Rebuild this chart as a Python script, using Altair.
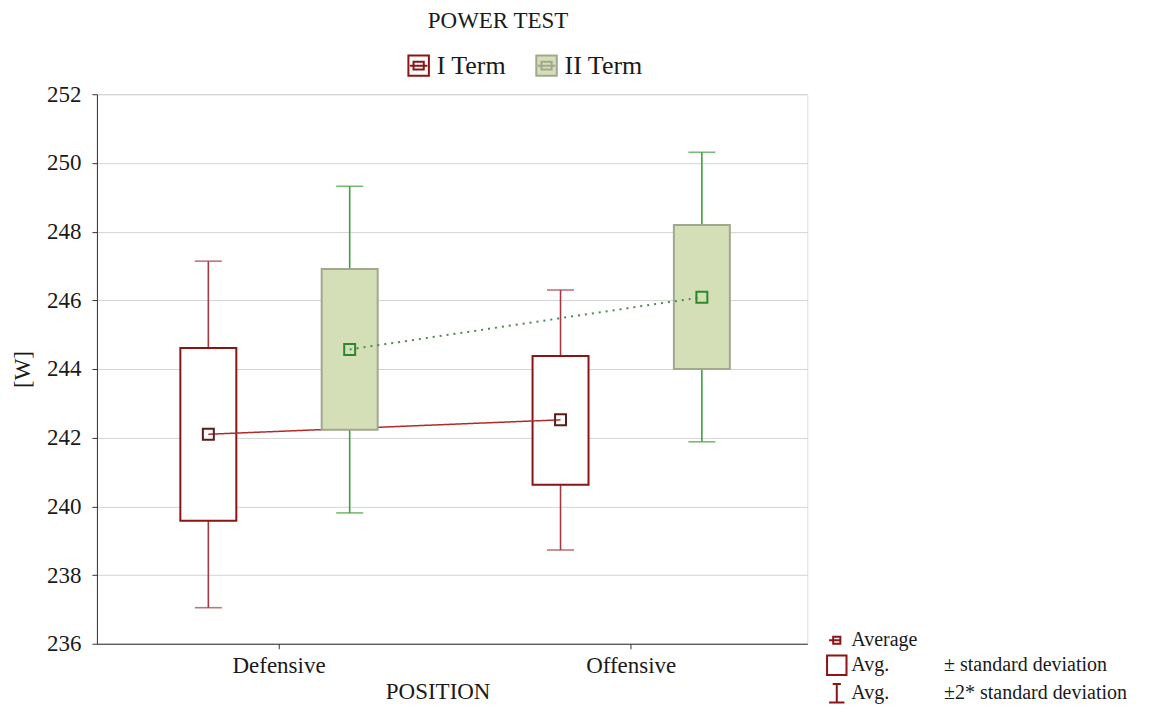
import altair as alt
import pandas as pd

# ---- data ----
positions = ["Defensive", "Offensive"]
terms = ["I Term", "II Term"]
pos_col = ["Defensive", "Defensive", "Offensive", "Offensive"]
term_col = ["I Term", "II Term", "I Term", "II Term"]
means = [242.10, 244.57, 242.52, 246.09]
sd_low = [239.58, 242.23, 240.63, 244.00]
sd_high = [244.61, 246.91, 244.38, 248.19]
sd2_low = [237.05, 239.81, 238.73, 241.88]
sd2_high = [247.14, 249.32, 246.30, 250.31]
y_ticks = [236, 238, 240, 242, 244, 246, 248, 250, 252]
NB = "\u00a0"
legend_items = ["Average",
                "Avg." + NB * 11 + "\u00b1 standard deviation",
                "Avg." + NB * 11 + "\u00b12* standard deviation"]

df = pd.DataFrame({"position": pos_col, "term": term_col, "mean": means,
                   "lo1": sd_low, "hi1": sd_high, "lo2": sd2_low, "hi2": sd2_high})
leg_df = pd.DataFrame({"item": legend_items})

FONT = "Liberation Serif"
TXT = "#1a1a1a"

styles = {
    "I Term": dict(whisk="#a23a44", box="#8b1414", fill="#ffffff", line="#b02a2a",
                   marker="#5a1c1c", dash=[1, 0], lw=1.5),
    "II Term": dict(whisk="#3f9f3f", box="#a2a88e", fill="#d4dfb8", line="#4a8a52",
                    marker="#2a8a2a", dash=[2, 5], lw=2),
}

top_sym = "M-1,-1H1V1H-1Z M-0.5,-0.38H0.5V0.38H-0.5Z M-0.85,0H0.85"
paths = ["M-0.35,-0.35H0.35V0.35H-0.35Z M-0.75,0H0.35",
         "M-0.95,-0.95H0.95V0.95H-0.95Z",
         "M-0.4,-0.9H0.4 M0,-0.9V0.9 M-0.75,0.9H0.75"]

x_enc = alt.X("position:N",
              scale=alt.Scale(domain=positions, paddingInner=0, paddingOuter=0.0085, align=1),
              axis=alt.Axis(title="POSITION", labelAngle=0, labelFont=FONT, labelFontSize=23,
                            labelColor=TXT, titleFont=FONT, titleFontSize=23,
                            titleFontWeight="normal", titleColor=TXT, tickSize=5,
                            tickColor="#333", domainColor="#333", labelPadding=6,
                            titlePadding=3, titleX=341, grid=False))
xo_enc = alt.XOffset("term:N", scale=alt.Scale(domain=terms, paddingInner=0.604, paddingOuter=0.548))
y_scale = alt.Scale(domain=[236, 252], nice=False, zero=False)
y_axis = alt.Axis(values=y_ticks, title="[W]", labelFont=FONT, labelFontSize=23, labelColor=TXT,
                  titleFont=FONT, titleFontSize=23, titleFontWeight="normal", titleColor=TXT,
                  tickSize=5, tickColor="#333", domainColor="#333", labelPadding=11,
                  titlePadding=12, grid=True, gridColor="#d4d4d4", gridWidth=1)

base = alt.Chart(df)
legend_top = alt.Legend(title=None, orient="none", legendX=309, legendY=-42, direction="horizontal",
                        symbolType=top_sym, symbolSize=420, symbolStrokeWidth=2,
                        labelFont=FONT, labelFontSize=26, labelColor=TXT, columnPadding=25,
                        labelOffset=5)
fill_scale = alt.Scale(domain=terms, range=[styles[t]["fill"] for t in terms])
stroke_scale = alt.Scale(domain=terms, range=[styles[t]["box"] for t in terms])

layers = []
for t in terms:
    s = styles[t]
    b = base.transform_filter(alt.datum.term == t)
    whisk = b.mark_rule(color=s["whisk"], strokeWidth=1.6).encode(
        x=x_enc, xOffset=xo_enc, y=alt.Y("lo2:Q", scale=y_scale, axis=y_axis), y2="hi2:Q")
    cap_lo = b.mark_tick(color=s["whisk"], size=27, thickness=1.6).encode(
        x=x_enc, xOffset=xo_enc, y=alt.Y("lo2:Q", scale=y_scale))
    cap_hi = b.mark_tick(color=s["whisk"], size=27, thickness=1.6).encode(
        x=x_enc, xOffset=xo_enc, y=alt.Y("hi2:Q", scale=y_scale))
    box = b.mark_bar(strokeWidth=2, opacity=1).encode(
        x=x_enc, xOffset=xo_enc, y=alt.Y("lo1:Q", scale=y_scale), y2="hi1:Q",
        fill=alt.Fill("term:N", scale=fill_scale, legend=legend_top),
        stroke=alt.Stroke("term:N", scale=stroke_scale, legend=legend_top))
    line = b.mark_line(color=s["line"], strokeWidth=s["lw"], strokeDash=s["dash"]).encode(
        x=x_enc, xOffset=xo_enc, y=alt.Y("mean:Q", scale=y_scale))
    pts = b.mark_point(shape="square", filled=False, size=120, strokeWidth=2,
                       color=s["marker"], opacity=1).encode(
        x=x_enc, xOffset=xo_enc, y=alt.Y("mean:Q", scale=y_scale))
    layers += [whisk, cap_lo, cap_hi, box, line, pts]

leg_layer = alt.Chart(leg_df).mark_point(opacity=0, filled=False, color="#8b1414",
                                         strokeWidth=2).encode(
    shape=alt.Shape("item:N", scale=alt.Scale(domain=legend_items, range=paths),
                    legend=alt.Legend(title=None, orient="none", legendX=729, legendY=535,
                                      direction="vertical", symbolSize=420,
                                      symbolStrokeColor="#8b1414", symbolStrokeWidth=2,
                                      symbolFillColor="transparent", labelFont=FONT,
                                      labelFontSize=20, labelColor=TXT, rowPadding=0,
                                      labelOffset=3, labelLimit=400)))

chart = alt.layer(*layers, leg_layer).properties(
    width=711, height=550,
    title=alt.TitleParams("POWER TEST", font=FONT, fontSize=23, fontWeight="normal",
                          color=TXT, dx=46, offset=19, anchor="middle"),
    autosize=alt.AutoSizeParams(type="none"),
    padding={"left": 89, "top": 86, "right": 350, "bottom": 61},
).resolve_scale(fill="shared", stroke="shared").configure_view(
    stroke="#333", strokeWidth=1.5).configure(background="white")

chart.save("out.html", embed_options={"renderer": "svg", "actions": False})
